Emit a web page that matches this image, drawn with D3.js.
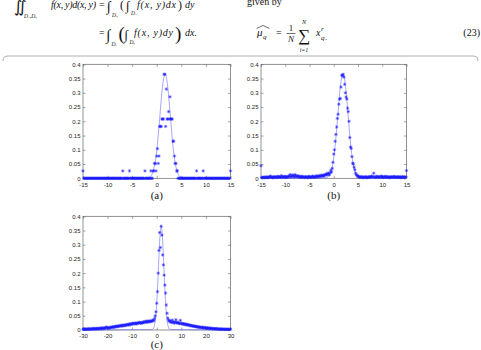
<!DOCTYPE html>
<html><head><meta charset="utf-8">
<script src="https://cdn.jsdelivr.net/npm/d3@7"></script>
<style>body{margin:0;background:#fff}svg{display:block}</style>
</head><body>
<svg id="chart" width="481" height="350"></svg>
<script>
// ---------- data ----------
const yTicks = [0, 0.05, 0.1, 0.15, 0.2, 0.25, 0.3, 0.35, 0.4];
const yTickLabels = ["0", "0.05", "0.1", "0.15", "0.2", "0.25", "0.3", "0.35", "0.4"];
const xTicksAB = [-15, -10, -5, 0, 5, 10, 15];
const xTickLabelsAB = ["-15", "-10", "-5", "0", "5", "10", "15"];
const xTicksC = [-30, -20, -10, 0, 10, 20, 30];
const xTickLabelsC = ["-30", "-20", "-10", "0", "10", "20", "30"];

// histogram bins: first bin centre and bin width
const binStartAB = -15, binStepAB = 0.15;
const binStartC = -30, binStepC = 0.3;

// (a) estimated density per bin (201 bins)
const densA = [
0.026,0,0,0,0,0,0,0,0,0, 0,0,0,0,0,0,0,0,0,0, 0,0,0,0,0,0,0,0,0,0, 0,0,0,0,0,0,0,0,0,0,
0,0,0,0,0,0,0,0,0,0, 0,0,0,0,0.026,0,0,0,0,0, 0,0,0,0.026,0,0,0,0,0,0, 0,0,0,0,0,0,0,0,0,0,
0,0,0,0,0.026,0,0,0,0,0, 0,0,0.026,0,0,0.026,0.026,0.052,0.052,0.026,
0.078,0.104,0.052,0.078,0.182,0.182,0.182,0.208,0.208,0.208,
0.365,0.365,0.182,0.313,0.208,0.208,0.234,0.208,0.286,0.208,
0.208,0.208,0.13,0.13,0.078,0.052,0.052,0.026,0.026,0,
0,0,0,0,0,0,0,0,0,0, 0,0,0,0,0,0,0,0,0,0, 0,0,0,0,0.026,0,0,0,0,0, 0,0,0,0.026,0,0,0,0,0,0,
0,0,0,0,0,0,0,0,0,0, 0,0,0,0,0,0,0,0,0,0, 0,0,0,0,0,0,0,0,0,0, 0.026
];
// (b)
const densB = [
0.044,0.003,0.002,0.004,0.003,0.002,0.005,0.003,0.004,0.002,
0.003,0.006,0.004,0.008,0.003,0.005,0.002,0.004,0.006,0.003,
0.005,0.004,0.003,0.007,0.005,0.004,0.006,0.003,0.009,0.004,
0.006,0.005,0.004,0.007,0.003,0.006,0.004,0.005,0.008,0.006,
0.013,0.005,0.007,0.012,0.006,0.01,0.005,0.013,0.007,0.006,
0.009,0.005,0.008,0.004,0.006,0.003,0.007,0.005,0.004,0.006,
0.003,0.005,0.004,0.006,0.002,0.005,0.007,0.004,0.003,0.006,
0.004,0.008,0.005,0.003,0.006,0.004,0.009,0.005,0.007,0.006,
0.01,0.006,0.008,0.011,0.007,0.009,0.012,0.008,0.011,0.014,
0.015,0.012,0.018,0.016,0.012,0.02,0.028,0.022,0.035,0.056,
0.085,0.1,0.13,0.154,0.18,0.21,0.225,0.26,0.278,0.28,
0.32,0.362,0.36,0.365,0.355,0.33,0.3,0.285,0.278,0.246,
0.234,0.2,0.143,0.11,0.105,0.076,0.053,0.05,0.039,0.03,
0.018,0.013,0.01,0.006,0.008,0.004,0.005,0.003,0.006,0.004,
0.002,0.005,0.003,0.004,0.006,0.003,0.002,0.005,0.004,0.006,
0.003,0.005,0.008,0.004,0.006,0.018,0.005,0.003,0.004,0.007,
0.005,0.004,0.006,0.003,0.005,0.008,0.004,0.006,0.003,0.005,
0.004,0.007,0.003,0.005,0.006,0.004,0.002,0.005,0.003,0.006,
0.004,0.003,0.005,0.007,0.004,0.003,0.005,0.004,0.006,0.003,
0.005,0.004,0.002,0.006,0.004,0.003,0.005,0.004,0.003,0.005,
0.027
];
// (c)
const densC = [
0.003,0.002,0.004,0.003,0.002,0.004,0.003,0.003,0.005,0.002,
0.004,0.003,0.005,0.004,0.003,0.006,0.004,0.005,0.003,0.006,
0.005,0.004,0.006,0.005,0.007,0.004,0.006,0.008,0.005,0.007,
0.006,0.009,0.01,0.007,0.008,0.006,0.009,0.008,0.01,0.009,
0.011,0.009,0.012,0.01,0.013,0.011,0.014,0.012,0.013,0.015,
0.014,0.016,0.013,0.017,0.015,0.016,0.018,0.015,0.017,0.019,
0.018,0.02,0.017,0.021,0.019,0.022,0.02,0.024,0.021,0.023,
0.022,0.025,0.021,0.024,0.023,0.026,0.024,0.027,0.025,0.023,
0.027,0.025,0.029,0.026,0.028,0.031,0.027,0.029,0.032,0.028,
0.031,0.029,0.033,0.03,0.032,0.035,0.033,0.041,0.05,0.064,
0.094,0.135,0.2,0.28,0.343,0.29,0.365,0.334,0.264,0.229,
0.193,0.158,0.13,0.088,0.059,0.042,0.035,0.03,0.033,0.028,
0.027,0.035,0.026,0.029,0.024,0.028,0.036,0.025,0.027,0.023,
0.026,0.022,0.034,0.024,0.021,0.023,0.02,0.022,0.019,0.021,
0.018,0.02,0.017,0.019,0.016,0.017,0.015,0.016,0.014,0.015,
0.013,0.014,0.012,0.013,0.011,0.012,0.01,0.011,0.009,0.01,
0.009,0.008,0.01,0.008,0.007,0.009,0.007,0.008,0.006,0.007,
0.006,0.007,0.005,0.006,0.005,0.006,0.004,0.005,0.004,0.005,
0.004,0.005,0.003,0.004,0.003,0.004,0.003,0.002,0.004,0.003,
0.003,0.002,0.003,0.002,0.003,0.002,0.003,0.002,0.002,0.003,
0.003
];

// fitted curves
const fitAX = [-15,-1.9,-1.6,-1.3,-1.0,-0.7,-0.4,-0.1,0.2,0.5,0.8,1.1,1.4,1.7,2.0,2.3,2.6,2.9,3.2,3.5,3.8,4.1,4.4,4.7,5.0,5.3,15];
const fitAY = [0,0.001,0.003,0.006,0.013,0.027,0.049,0.084,0.132,0.190,0.253,0.310,0.350,0.365,0.350,0.310,0.253,0.190,0.132,0.084,0.049,0.027,0.013,0.006,0.003,0.001,0];
const fitBX = [-15,-1.7,-1.4,-1.1,-0.8,-0.5,-0.2,0.1,0.4,0.7,1.0,1.3,1.6,1.9,2.2,2.5,2.8,3.1,3.4,3.7,4.0,4.3,4.6,4.9,5.2,5.5,15];
const fitBY = [0,0.001,0.003,0.007,0.014,0.028,0.051,0.086,0.134,0.192,0.254,0.311,0.351,0.365,0.351,0.311,0.254,0.192,0.134,0.086,0.051,0.028,0.014,0.007,0.003,0.001,0];
const fitCX = [-30,-1.8,-1.5,-1.2,-0.9,-0.6,-0.3,0.0,0.3,0.6,0.9,1.2,1.5,1.8,2.1,2.4,2.7,3.0,3.3,3.6,3.9,4.2,4.5,4.8,5.1,5.4,30];
const fitCY = [0,0.002,0.004,0.009,0.018,0.034,0.059,0.096,0.144,0.201,0.261,0.315,0.351,0.365,0.351,0.315,0.261,0.201,0.144,0.096,0.059,0.034,0.018,0.009,0.004,0.002,0];

// ---------- drawing ----------
const svg = d3.select("#chart");
const BLUE = "#1a1aff";
const LINE = "#6b6bff";
const AXIS = "#666";

function panel(cfg) {
  const x = d3.scaleLinear().domain(cfg.xDomain).range([cfg.left, cfg.right]);
  const y = d3.scaleLinear().domain([0, 0.4]).range([cfg.bottom, cfg.top]);
  const g = svg.append("g");

  g.append("rect").attr("x", cfg.left).attr("y", cfg.top)
    .attr("width", cfg.right - cfg.left).attr("height", cfg.bottom - cfg.top)
    .attr("fill", "none").attr("stroke", AXIS).attr("stroke-width", 0.7);

  const style = sel => {
    sel.select(".domain").remove();
    sel.selectAll(".tick line").attr("stroke", AXIS).attr("stroke-width", 0.6);
    sel.selectAll(".tick text").attr("fill", "#222")
      .style("font-family", "'Liberation Sans', Arial, sans-serif").style("font-size", "6px");
  };
  const xl = cfg.xLabels;
  g.append("g").attr("transform", `translate(0,${cfg.bottom})`)
    .call(d3.axisBottom(x).tickValues(cfg.xTicks).tickSize(-2.5).tickPadding(4)
      .tickFormat((d, i) => xl[i])).call(style);
  g.append("g").attr("transform", `translate(0,${cfg.top})`)
    .call(d3.axisTop(x).tickValues(cfg.xTicks).tickSize(-2.5).tickFormat("")).call(style);
  g.append("g").attr("transform", `translate(${cfg.left},0)`)
    .call(d3.axisLeft(y).tickValues(yTicks).tickSize(-2.5).tickPadding(2.5)
      .tickFormat((d, i) => yTickLabels[i])).call(style);
  g.append("g").attr("transform", `translate(${cfg.right},0)`)
    .call(d3.axisRight(y).tickValues(yTicks).tickSize(-2.5).tickFormat("")).call(style);

  const pts = cfg.fitX.map((v, i) => [v, cfg.fitY[i]]);
  g.append("path").datum(pts)
    .attr("d", d3.line().x(d => x(d[0])).y(d => y(d[1])).curve(d3.curveMonotoneX))
    .attr("fill", "none").attr("stroke", LINE).attr("stroke-width", 0.6);

  const data = cfg.dens.map((v, i) => [cfg.binStart + i * cfg.binStep, v]);
  const s = 1.7, a = 1.2;
  const star = `M${-s},0H${s}M0,${-s}V${s}M${-a},${-a}L${a},${a}M${-a},${a}L${a},${-a}`;
  g.append("g").selectAll("path").data(data).join("path")
    .attr("transform", d => `translate(${x(d[0])},${y(d[1])})`)
    .attr("d", star).attr("fill", "none").attr("stroke", BLUE).attr("stroke-width", 0.5);

  svg.append("text").attr("x", (cfg.left + cfg.right) / 2).attr("y", cfg.capY)
    .attr("text-anchor", "middle")
    .style("font-family", "'Liberation Serif', 'Times New Roman', serif").style("font-size", "11px")
    .attr("fill", "#111").text(cfg.caption);
}

panel({left: 83, right: 230.5, top: 64.3, bottom: 178.3, xDomain: [-15, 15],
  xTicks: xTicksAB, xLabels: xTickLabelsAB, dens: densA, binStart: binStartAB, binStep: binStepAB,
  fitX: fitAX, fitY: fitAY, caption: "(a)", capY: 199});
panel({left: 261, right: 406.5, top: 64.3, bottom: 178.3, xDomain: [-15, 15],
  xTicks: xTicksAB, xLabels: xTickLabelsAB, dens: densB, binStart: binStartAB, binStep: binStepAB,
  fitX: fitBX, fitY: fitBY, caption: "(b)", capY: 199});
panel({left: 83, right: 230.5, top: 216.3, bottom: 330, xDomain: [-30, 30],
  xTicks: xTicksC, xLabels: xTickLabelsC, dens: densC, binStart: binStartC, binStep: binStepC,
  fitX: fitCX, fitY: fitCY, caption: "(c)", capY: 348});

// ---------- equation text above ----------
const serif = "'Liberation Serif', 'Times New Roman', serif";
function t(x, y, str, size, italic, anchor, len) {
  const el = svg.append("text").attr("x", x).attr("y", y).text(str)
    .attr("text-anchor", anchor || "start").attr("fill", "#111")
    .style("font-family", serif).style("font-size", size + "px")
    .style("font-style", italic ? "italic" : "normal");
  if (len) el.attr("textLength", len).attr("lengthAdjust", "spacing");
}
// line 1
t(14, 12, "\u222C", 16, false);
t(24, 18, "D\u208B,D\u208A", 5.5, true);
t(51, 8, "f(x, y)d(x, y)", 10, true, null, 45);
t(99, 8, "=", 10, false);
t(107, 11, "\u222B", 14, false);
t(112, 17, "D\u208A", 5.5, true);
t(120, 9, "(", 12, false);
t(126, 10, "\u222B", 13, false);
t(131, 15, "D\u208B", 5.5, true);
t(137, 8, "f(x, y)dx", 10, true, null, 39);
t(178, 9, ")", 12, false);
t(185, 8, "dy", 10, true);
t(247, 5, "given by", 10, false);
// line 2
t(99, 36, "=", 10, false);
t(106, 40, "\u222B", 15, false);
t(111.5, 46, "D\u208B", 5.5, true);
t(118.5, 40, "(", 19, false);
t(124.5, 39, "\u222B", 13, false);
t(129.5, 44, "D\u208A", 5.5, true);
t(134, 36, "f(x, y)dy", 10, true, null, 39);
t(175, 40, ")", 19, false);
t(185, 36, "dx.", 10, true);
t(257, 36, "\u03BC", 11, true);
t(263, 39, "q", 7, true);
svg.append("path").attr("d", "M256.5,28.5L263,25.5L269.5,28.5").attr("fill", "none")
  .attr("stroke", "#111").attr("stroke-width", 0.6);
t(276, 36, "=", 10, false);
t(291, 31, "1", 9, false, "middle");
svg.append("line").attr("x1", 286.5).attr("x2", 295.5).attr("y1", 33.5).attr("y2", 33.5)
  .attr("stroke", "#111").attr("stroke-width", 0.6);
t(291, 42, "N", 9, true, "middle");
t(304, 41, "\u2211", 17, false, "middle");
t(304, 24, "N", 6, true, "middle");
t(304, 52, "i=1", 6, true, "middle");
t(316, 36, "x", 10, true);
t(321, 31, "r", 7, true);
t(321, 40, "q", 7, true);
t(325, 40, ".", 8, false);
t(480, 36, "(23)", 10, false, "end");

// frame rule
svg.append("path").attr("d", "M3,61Q3,56 8,56H473Q478,56 478,61")
  .attr("fill", "none").attr("stroke", "#999").attr("stroke-width", 0.8);
</script>
</body></html>
